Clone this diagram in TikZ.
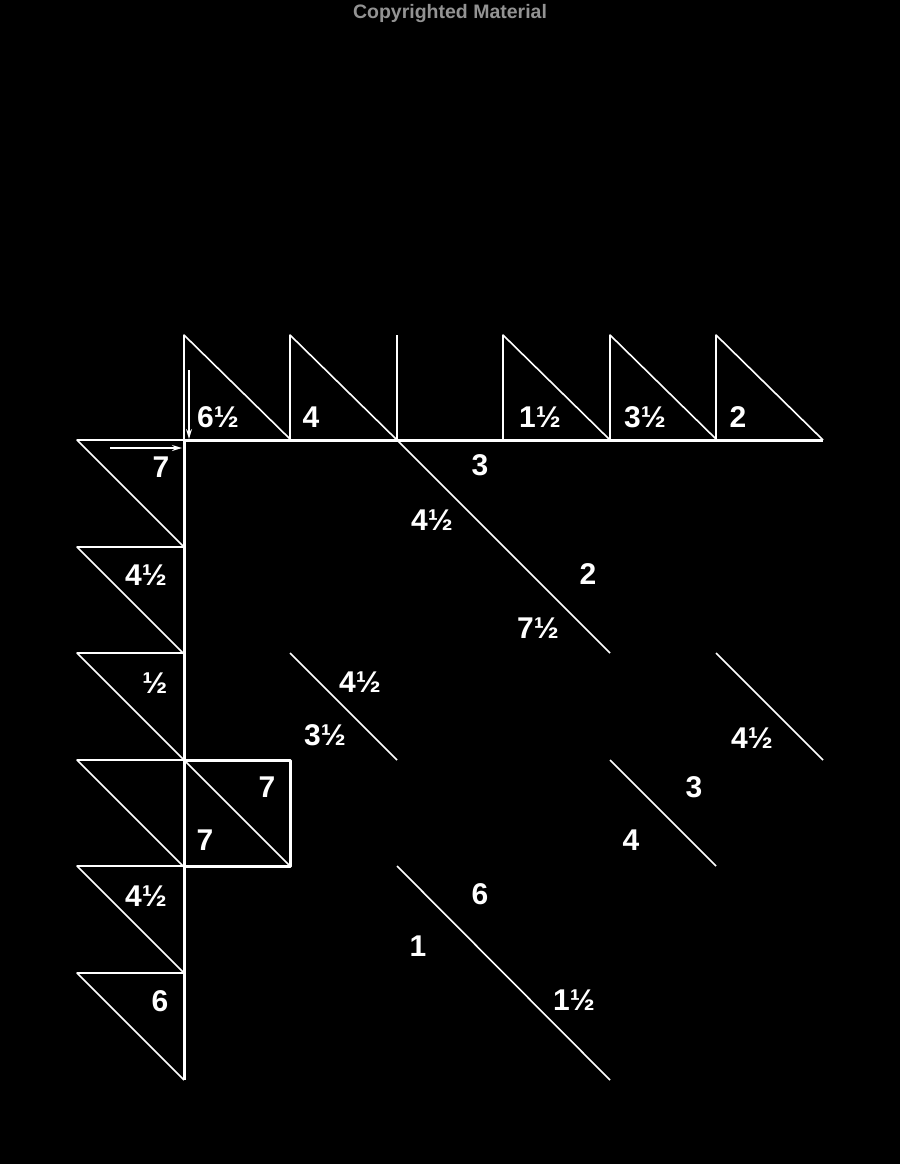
\documentclass[tikz,border=0pt]{standalone}
\usepackage{fontspec}
\setmainfont{Liberation Sans}
\usetikzlibrary{arrows.meta}
\begin{document}
\begin{tikzpicture}[x=1pt,y=-1pt,
  thinline/.style={draw=white,line width=1.6pt,line join=round},
  thickline/.style={draw=white,line width=3pt,line join=round},
  lbl/.style={text=white,font=\fontsize{30}{30}\selectfont\bfseries,inner sep=0pt},
  arr/.style={draw=white,line width=1.4pt,-{Stealth[length=10pt,width=6pt]}}]
\fill[black] (0,0) rectangle (900,1164);
\useasboundingbox (0,0) rectangle (900,1164);
\node[text=gray!85,font=\bfseries\fontsize{19.5}{20}\selectfont,inner sep=0pt] (cm) at (450,14) {Copyrighted Material};
% top row triangles
\foreach \x in {184,290,503,610,716} {
  \draw[thinline] (\x,440) -- (\x,335) -- (\x+107,440);
}
\draw[thinline] (397,440) -- (397,335);
% horizontal line
\draw[thinline] (77,440) -- (184,440);
\draw[thickline] (184,440) -- (823,440);
% left column triangles
\foreach \y in {440,547,653,760,866,973} {
  \draw[thinline] (184,\y) -- (77,\y) -- (184,\y+107);
}
% vertical thick line
\draw[thickline] (184,440) -- (184,1080);
% square
\draw[thickline] (184,760) -- (290,760) -- (290,866) -- (184,866);
\draw[thinline] (184,760) -- (290,866);
% interior diagonals
\draw[thinline] (397,440) -- (610,653);
\draw[thinline] (290,653) -- (397,760);
\draw[thinline] (716,653) -- (823,760);
\draw[thinline] (610,760) -- (716,866);
\draw[thinline] (397,866) -- (610,1080);
% arrows
\coordinate (va) at (189,370);
\coordinate (vb) at (189,439);
\coordinate (ha) at (110,448);
\coordinate (hb) at (182,448);
\draw[arr] (va) -- (vb);
\draw[arr] (ha) -- (hb);
% labels
\node[lbl] (t1) at (218,417) {6½};
\node[lbl] (t2) at (311,417) {4};
\node[lbl] (t3) at (540,417) {1½};
\node[lbl] (t4) at (645,417) {3½};
\node[lbl] (t5) at (738,417) {2};
\node[lbl] (l1) at (161,467) {7};
\node[lbl] (l2) at (146,575) {4½};
\node[lbl] (l3) at (155,683) {½};
\node[lbl] (s1) at (267,787) {7};
\node[lbl] (s2) at (205,840) {7};
\node[lbl] (l5) at (146,896) {4½};
\node[lbl] (l6) at (160,1001) {6};
\node[lbl] (d1) at (480,465) {3};
\node[lbl] (d2) at (432,520) {4½};
\node[lbl] (d3) at (588,574) {2};
\node[lbl] (d4) at (538,628) {7½};
\node[lbl] (e1) at (360,682) {4½};
\node[lbl] (e2) at (325,735) {3½};
\node[lbl] (f1) at (752,738) {4½};
\node[lbl] (g1) at (694,787) {3};
\node[lbl] (g2) at (631,840) {4};
\node[lbl] (h1) at (480,894) {6};
\node[lbl] (h2) at (418,946) {1};
\node[lbl] (h3) at (574,1000) {1½};
\end{tikzpicture}
\end{document}
